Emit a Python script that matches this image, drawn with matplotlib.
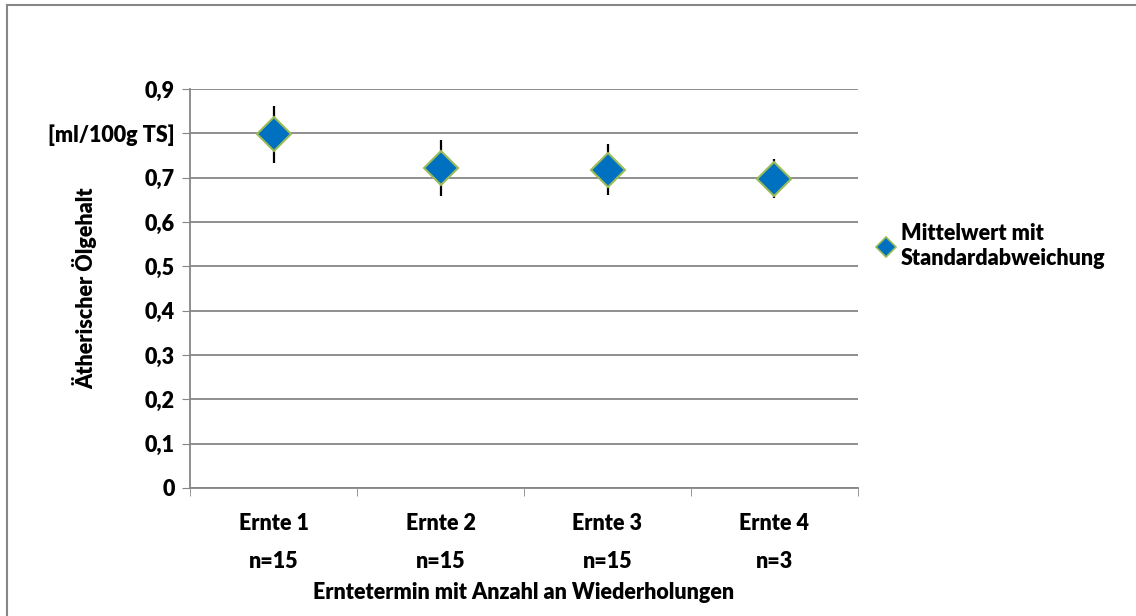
import matplotlib.pyplot as plt
from matplotlib.lines import Line2D

# Werte
categories = ['Ernte 1\nn=15', 'Ernte 2\nn=15', 'Ernte 3\nn=15', 'Ernte 4\nn=3']
means = [0.798, 0.722, 0.718, 0.698]
std_dev = [0.064, 0.063, 0.057, 0.043]
y_ticks = [0, 0.1, 0.2, 0.3, 0.4, 0.5, 0.6, 0.7, 0.8, 0.9]
y_tick_labels = ['0', '0,1', '0,2', '0,3', '0,4', '0,5', '0,6', '0,7', '[ml/100g TS]', '0,9']

plt.rcParams['font.family'] = ['Lato', 'DejaVu Sans']
plt.rcParams['font.weight'] = 'heavy'
FS = 15.5

fig = plt.figure(figsize=(11.36, 6.16), dpi=100)
ax = fig.add_axes([190/1136, 1 - 488/616, (858 - 190)/1136, (488 - 89)/616])

x = list(range(len(categories)))
ax.errorbar(x, means, yerr=std_dev, fmt='none', ecolor='black', elinewidth=1.6, capsize=0, zorder=3)
ax.plot(x, means, linestyle='none', marker='D', markersize=17,
        markerfacecolor='#0070C0', markeredgecolor='#9BBB59', markeredgewidth=1.5, zorder=4)

ax.set_xlim(-0.5, len(categories) - 0.5)
ax.set_ylim(0, 0.9)
ax.set_yticks(y_ticks)
ax.set_yticklabels(y_tick_labels, fontsize=FS, fontweight='heavy')
ax.set_xticks(x)
ax.set_xticklabels(categories, fontsize=FS, fontweight='heavy', linespacing=2.0)
ax.set_xticks([i - 0.5 for i in range(len(categories) + 1)], minor=True)
ax.tick_params(axis='x', which='major', length=0, pad=18)
ax.tick_params(axis='x', which='minor', length=6, color='#868686', direction='out')
ax.tick_params(axis='y', length=6, color='#868686', direction='out', pad=5)

ax.grid(axis='y', color='#868686', linewidth=1.3)
ax.set_axisbelow(True)
for side in ['top', 'right']:
    ax.spines[side].set_visible(False)
for side in ['left', 'bottom']:
    ax.spines[side].set_color('#868686')
    ax.spines[side].set_linewidth(1.3)

ax.set_ylabel('Ätherischer Ölgehalt', fontsize=FS, fontweight='heavy')
ax.yaxis.set_label_coords(-0.139, 0.5)
ax.set_xlabel('Erntetermin mit Anzahl an Wiederholungen', fontsize=FS, fontweight='heavy')
ax.xaxis.set_label_coords(0.5, -0.236)

handle = Line2D([], [], linestyle='none', marker='D', markersize=10,
                markerfacecolor='#0070C0', markeredgecolor='#9BBB59', markeredgewidth=1.2)
fig.legend([handle], ['Mittelwert mit\nStandardabweichung'], loc='upper left',
           bbox_to_anchor=(856/1136, 1 - 204/616), frameon=False,
           prop={'size': FS, 'weight': 'heavy'}, handletextpad=0.2, handlelength=1.0,
           labelspacing=0.2)

# Rahmen (nur links und oben sichtbar)
fig.add_artist(Line2D([7/1136, 7/1136], [0, 1 - 5/616], color='#868686', linewidth=1.5))
fig.add_artist(Line2D([7/1136, 1], [1 - 5/616, 1 - 5/616], color='#868686', linewidth=1.5))

fig.savefig('out.png', dpi=100)
